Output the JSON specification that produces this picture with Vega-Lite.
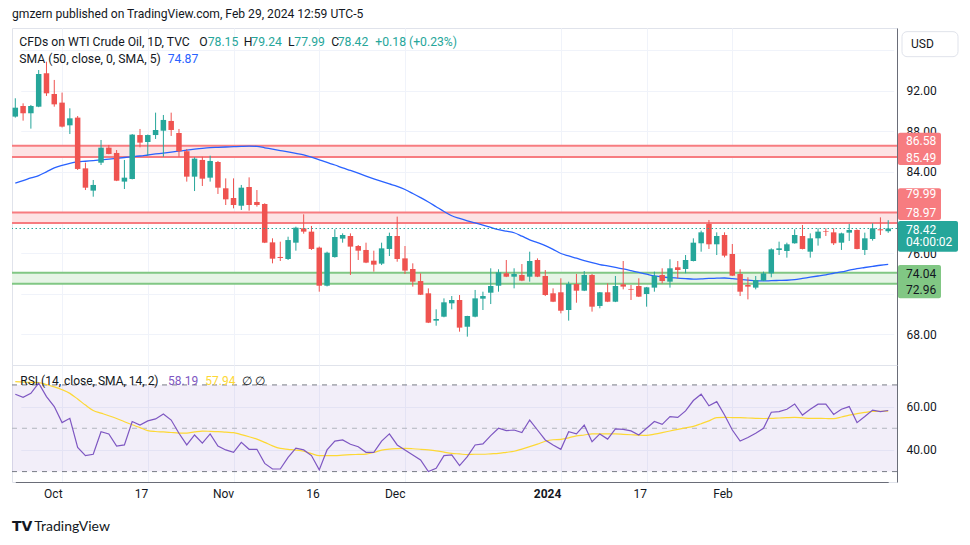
{
"$schema": "https://vega.github.io/schema/vega-lite/v6.json",
"padding": {"left": 10, "top": 8, "right": 0, "bottom": 0},
"background": "#ffffff",
"title": {"text": "gmzern published on TradingView.com, Feb 29, 2024 12:59 UTC-5", "anchor": "start", "fontSize": 12.1, "fontWeight": "normal", "font": "Roboto", "color": "#131722", "offset": 7, "frame": "group"},
"config": {"view": {"stroke": "#e0e3eb"}, "axis": {"labelFont": "Roboto", "labelFontSize": 12, "labelColor": "#131722", "ticks": false, "tickSize": 0}},
"spacing": 0,
"bounds": "flush",
"datasets": {"bars": [
{"d":"2023-09-22","o":89.47,"h":91.28,"l":89.37,"c":90.35,"s":82.89,"r":65.7,"m":71.5},
{"d":"2023-09-25","o":90.52,"h":90.78,"l":89.07,"c":89.80,"s":83.14,"r":64.3,"m":71.3},
{"d":"2023-09-26","o":89.80,"h":90.62,"l":88.28,"c":90.52,"s":83.41,"r":66.1,"m":71.2},
{"d":"2023-09-27","o":90.45,"h":94.07,"l":90.40,"c":93.68,"s":83.65,"r":70.8,"m":71.1},
{"d":"2023-09-28","o":93.75,"h":94.89,"l":91.51,"c":91.77,"s":84.02,"r":64.6,"m":70.2},
{"d":"2023-09-29","o":91.70,"h":93.09,"l":90.45,"c":90.68,"s":84.40,"r":60.0,"m":69.1},
{"d":"2023-10-02","o":90.85,"h":91.84,"l":88.40,"c":88.48,"s":84.65,"r":52.6,"m":67.8},
{"d":"2023-10-03","o":88.61,"h":90.29,"l":87.75,"c":89.30,"s":84.85,"r":54.6,"m":66.1},
{"d":"2023-10-04","o":89.37,"h":89.53,"l":84.20,"c":84.30,"s":84.99,"r":41.2,"m":63.5},
{"d":"2023-10-05","o":84.36,"h":84.92,"l":82.22,"c":82.45,"s":85.06,"r":37.4,"m":60.7},
{"d":"2023-10-06","o":82.16,"h":83.21,"l":81.56,"c":82.72,"s":85.13,"r":38.0,"m":58.2},
{"d":"2023-10-09","o":84.92,"h":87.16,"l":84.69,"c":86.40,"s":85.20,"r":48.4,"m":57.0},
{"d":"2023-10-10","o":86.40,"h":86.67,"l":85.75,"c":85.78,"s":85.27,"r":47.4,"m":55.8},
{"d":"2023-10-11","o":85.88,"h":86.17,"l":83.10,"c":83.14,"s":85.35,"r":41.8,"m":54.5},
{"d":"2023-10-12","o":83.05,"h":85.19,"l":82.32,"c":83.44,"s":85.43,"r":42.3,"m":53.0},
{"d":"2023-10-13","o":83.31,"h":87.75,"l":83.27,"c":87.69,"s":85.50,"r":53.1,"m":51.6},
{"d":"2023-10-16","o":87.65,"h":88.25,"l":86.44,"c":86.90,"s":85.58,"r":51.5,"m":50.3},
{"d":"2023-10-17","o":86.96,"h":87.70,"l":85.61,"c":87.65,"s":85.68,"r":53.4,"m":48.9},
{"d":"2023-10-18","o":87.65,"h":89.86,"l":87.26,"c":88.15,"s":85.78,"r":54.3,"m":48.5},
{"d":"2023-10-19","o":88.08,"h":89.63,"l":85.51,"c":89.14,"s":85.87,"r":56.6,"m":48.3},
{"d":"2023-10-20","o":89.04,"h":89.86,"l":87.56,"c":88.15,"s":85.97,"r":53.8,"m":48.05},
{"d":"2023-10-23","o":87.85,"h":88.25,"l":85.51,"c":86.05,"s":86.06,"r":47.7,"m":47.8},
{"d":"2023-10-24","o":86.05,"h":86.27,"l":83.05,"c":83.54,"s":86.15,"r":42.3,"m":47.8},
{"d":"2023-10-25","o":83.54,"h":85.45,"l":82.12,"c":85.32,"s":86.25,"r":46.9,"m":48.3},
{"d":"2023-10-26","o":85.19,"h":85.51,"l":82.62,"c":83.34,"s":86.34,"r":43.1,"m":48.7},
{"d":"2023-10-27","o":83.44,"h":85.61,"l":83.05,"c":85.09,"s":86.41,"r":47.4,"m":48.6},
{"d":"2023-10-30","o":84.99,"h":85.09,"l":81.83,"c":82.45,"s":86.44,"r":41.8,"m":48.45},
{"d":"2023-10-31","o":82.39,"h":83.37,"l":80.74,"c":81.30,"s":86.47,"r":40.0,"m":48.2},
{"d":"2023-11-01","o":81.43,"h":83.37,"l":80.41,"c":80.74,"s":86.50,"r":38.9,"m":48.0},
{"d":"2023-11-02","o":80.67,"h":82.72,"l":80.25,"c":82.45,"s":86.53,"r":43.5,"m":47.1},
{"d":"2023-11-03","o":82.52,"h":83.47,"l":80.18,"c":80.74,"s":86.55,"r":40.3,"m":46.1},
{"d":"2023-11-06","o":81.04,"h":82.22,"l":80.58,"c":80.74,"s":86.53,"r":40.3,"m":45.0},
{"d":"2023-11-07","o":80.84,"h":80.91,"l":76.98,"c":77.02,"s":86.39,"r":33.8,"m":43.5},
{"d":"2023-11-08","o":77.05,"h":77.45,"l":74.98,"c":75.44,"s":86.26,"r":31.2,"m":41.9},
{"d":"2023-11-09","o":75.61,"h":77.12,"l":75.21,"c":75.51,"s":86.12,"r":31.2,"m":40.7},
{"d":"2023-11-10","o":75.41,"h":77.61,"l":75.31,"c":77.28,"s":85.98,"r":36.6,"m":40.3},
{"d":"2023-11-13","o":77.02,"h":78.60,"l":76.23,"c":78.50,"s":85.83,"r":40.8,"m":39.95},
{"d":"2023-11-14","o":78.44,"h":79.82,"l":77.91,"c":78.11,"s":85.68,"r":40.0,"m":39.4},
{"d":"2023-11-15","o":78.11,"h":78.67,"l":76.30,"c":76.40,"s":85.46,"r":37.4,"m":38.3},
{"d":"2023-11-16","o":76.53,"h":76.63,"l":72.18,"c":72.77,"s":85.20,"r":30.8,"m":37.4},
{"d":"2023-11-17","o":72.77,"h":76.13,"l":72.70,"c":76.03,"s":84.94,"r":40.0,"m":37.4},
{"d":"2023-11-20","o":75.60,"h":78.34,"l":75.54,"c":77.58,"s":84.69,"r":44.1,"m":37.4},
{"d":"2023-11-21","o":77.42,"h":77.94,"l":77.02,"c":77.78,"s":84.41,"r":44.6,"m":37.6},
{"d":"2023-11-22","o":77.68,"h":77.94,"l":73.83,"c":76.63,"s":84.15,"r":42.6,"m":37.8},
{"d":"2023-11-23","o":76.69,"h":76.79,"l":75.31,"c":76.23,"s":83.88,"r":41.5,"m":37.95},
{"d":"2023-11-24","o":76.30,"h":77.02,"l":75.00,"c":75.05,"s":83.60,"r":38.9,"m":38.1},
{"d":"2023-11-27","o":75.24,"h":76.23,"l":74.16,"c":74.85,"s":83.33,"r":38.9,"m":38.8},
{"d":"2023-11-28","o":74.95,"h":77.02,"l":74.81,"c":76.46,"s":83.07,"r":44.1,"m":39.9},
{"d":"2023-11-29","o":76.40,"h":78.01,"l":75.70,"c":77.68,"s":82.82,"r":47.4,"m":40.4},
{"d":"2023-11-30","o":77.68,"h":79.59,"l":75.14,"c":75.41,"s":82.58,"r":42.3,"m":40.6},
{"d":"2023-12-01","o":75.47,"h":76.69,"l":73.93,"c":74.26,"s":82.27,"r":40.0,"m":40.7},
{"d":"2023-12-04","o":74.42,"h":74.98,"l":72.68,"c":73.17,"s":81.88,"r":37.7,"m":40.55},
{"d":"2023-12-05","o":73.23,"h":73.99,"l":71.85,"c":71.88,"s":81.47,"r":35.4,"m":40.3},
{"d":"2023-12-06","o":72.02,"h":72.51,"l":69.08,"c":69.12,"s":81.04,"r":30.0,"m":40.0},
{"d":"2023-12-07","o":69.32,"h":70.44,"l":68.82,"c":69.48,"s":80.57,"r":31.5,"m":39.6},
{"d":"2023-12-08","o":69.71,"h":71.52,"l":69.65,"c":71.13,"s":80.10,"r":37.4,"m":39.0},
{"d":"2023-12-11","o":71.03,"h":71.75,"l":70.44,"c":71.36,"s":79.68,"r":37.7,"m":38.4},
{"d":"2023-12-12","o":71.36,"h":71.85,"l":68.23,"c":68.63,"s":79.41,"r":32.8,"m":38.15},
{"d":"2023-12-13","o":68.72,"h":69.80,"l":67.74,"c":69.78,"s":79.17,"r":36.9,"m":37.85},
{"d":"2023-12-14","o":69.71,"h":72.35,"l":69.65,"c":71.52,"s":78.97,"r":42.3,"m":38.0},
{"d":"2023-12-15","o":71.49,"h":72.18,"l":70.37,"c":71.75,"s":78.76,"r":42.8,"m":38.0},
{"d":"2023-12-18","o":72.08,"h":74.49,"l":70.96,"c":72.74,"s":78.53,"r":46.6,"m":38.2},
{"d":"2023-12-19","o":72.77,"h":74.39,"l":72.18,"c":74.09,"s":78.31,"r":50.0,"m":38.4},
{"d":"2023-12-20","o":74.00,"h":75.31,"l":73.62,"c":73.66,"s":78.15,"r":48.9,"m":38.9},
{"d":"2023-12-21","o":73.66,"h":74.49,"l":72.51,"c":73.93,"s":78.00,"r":49.2,"m":39.4},
{"d":"2023-12-22","o":73.83,"h":74.91,"l":73.22,"c":73.27,"s":77.66,"r":48.0,"m":40.4},
{"d":"2023-12-26","o":73.66,"h":76.13,"l":73.17,"c":75.21,"s":77.30,"r":53.8,"m":41.5},
{"d":"2023-12-27","o":75.31,"h":75.47,"l":73.62,"c":73.66,"s":77.02,"r":49.2,"m":42.7},
{"d":"2023-12-28","o":73.73,"h":74.32,"l":71.75,"c":71.85,"s":76.73,"r":44.6,"m":44.0},
{"d":"2023-12-29","o":72.02,"h":72.51,"l":71.15,"c":71.19,"s":76.36,"r":42.3,"m":44.7},
{"d":"2024-01-02","o":72.12,"h":73.50,"l":70.04,"c":70.30,"s":75.95,"r":40.3,"m":44.9},
{"d":"2024-01-03","o":70.37,"h":73.17,"l":69.32,"c":72.94,"s":75.71,"r":48.4,"m":45.6},
{"d":"2024-01-04","o":72.94,"h":73.93,"l":71.09,"c":72.28,"s":75.49,"r":47.4,"m":46.5},
{"d":"2024-01-05","o":72.28,"h":74.22,"l":72.24,"c":73.83,"s":75.25,"r":51.5,"m":46.9},
{"d":"2024-01-08","o":73.83,"h":73.93,"l":70.21,"c":70.70,"s":75.04,"r":43.8,"m":47.4},
{"d":"2024-01-09","o":70.77,"h":72.15,"l":70.54,"c":72.12,"s":74.86,"r":47.4,"m":47.4},
{"d":"2024-01-10","o":72.12,"h":73.00,"l":71.15,"c":71.19,"s":74.72,"r":45.0,"m":47.4},
{"d":"2024-01-11","o":71.19,"h":73.73,"l":71.15,"c":72.74,"s":74.57,"r":49.7,"m":47.4},
{"d":"2024-01-12","o":72.91,"h":75.21,"l":72.41,"c":72.68,"s":74.43,"r":49.5,"m":47.2},
{"d":"2024-01-15","o":72.45,"h":72.84,"l":71.36,"c":72.38,"s":74.26,"r":48.8,"m":47.0},
{"d":"2024-01-16","o":72.74,"h":73.50,"l":71.65,"c":71.69,"s":74.08,"r":46.9,"m":46.8},
{"d":"2024-01-17","o":71.95,"h":72.65,"l":70.70,"c":72.61,"s":73.91,"r":50.0,"m":46.7},
{"d":"2024-01-18","o":72.58,"h":74.16,"l":72.18,"c":73.73,"s":73.74,"r":53.1,"m":47.3},
{"d":"2024-01-19","o":73.83,"h":74.49,"l":73.00,"c":73.23,"s":73.63,"r":51.8,"m":48.0},
{"d":"2024-01-22","o":73.17,"h":75.38,"l":72.58,"c":74.49,"s":73.57,"r":55.4,"m":48.75},
{"d":"2024-01-23","o":74.59,"h":75.21,"l":73.50,"c":74.32,"s":73.52,"r":55.0,"m":49.5},
{"d":"2024-01-24","o":74.42,"h":75.80,"l":74.00,"c":75.31,"s":73.47,"r":58.0,"m":50.2},
{"d":"2024-01-25","o":75.21,"h":77.45,"l":75.17,"c":77.02,"s":73.43,"r":62.8,"m":50.9},
{"d":"2024-01-26","o":76.96,"h":78.21,"l":76.13,"c":78.04,"s":73.45,"r":65.7,"m":52.1},
{"d":"2024-01-29","o":78.87,"h":79.26,"l":76.40,"c":76.86,"s":73.49,"r":60.4,"m":53.4},
{"d":"2024-01-30","o":76.86,"h":78.04,"l":75.80,"c":77.68,"s":73.51,"r":62.3,"m":54.95},
{"d":"2024-01-31","o":77.78,"h":78.04,"l":75.57,"c":75.74,"s":73.53,"r":56.1,"m":55.0},
{"d":"2024-02-01","o":75.90,"h":76.89,"l":73.72,"c":73.76,"s":73.46,"r":49.2,"m":54.95},
{"d":"2024-02-02","o":73.93,"h":74.39,"l":71.75,"c":72.18,"s":73.39,"r":44.1,"m":54.9},
{"d":"2024-02-05","o":72.84,"h":73.60,"l":71.42,"c":72.68,"s":73.32,"r":45.7,"m":54.75},
{"d":"2024-02-06","o":72.58,"h":73.73,"l":72.41,"c":73.33,"s":73.25,"r":47.7,"m":54.6},
{"d":"2024-02-07","o":73.27,"h":74.16,"l":73.23,"c":73.99,"s":73.24,"r":50.0,"m":54.5},
{"d":"2024-02-08","o":73.99,"h":76.46,"l":73.60,"c":76.36,"s":73.27,"r":57.4,"m":54.56},
{"d":"2024-02-09","o":76.30,"h":77.12,"l":75.80,"c":76.46,"s":73.29,"r":57.7,"m":54.75},
{"d":"2024-02-12","o":76.20,"h":77.02,"l":75.54,"c":76.86,"s":73.31,"r":58.8,"m":54.9},
{"d":"2024-02-13","o":76.96,"h":78.34,"l":76.92,"c":77.78,"s":73.37,"r":61.2,"m":55.0},
{"d":"2024-02-14","o":77.68,"h":78.77,"l":76.36,"c":76.40,"s":73.49,"r":56.1,"m":54.8},
{"d":"2024-02-15","o":76.13,"h":77.94,"l":75.54,"c":77.45,"s":73.61,"r":58.8,"m":54.6},
{"d":"2024-02-16","o":77.45,"h":78.44,"l":76.73,"c":78.11,"s":73.73,"r":61.1,"m":54.55},
{"d":"2024-02-19","o":78.14,"h":78.44,"l":77.68,"c":78.08,"s":73.85,"r":61.1,"m":54.5},
{"d":"2024-02-20","o":78.04,"h":78.44,"l":76.79,"c":76.96,"s":74.00,"r":56.4,"m":54.46},
{"d":"2024-02-21","o":77.02,"h":78.01,"l":76.30,"c":77.94,"s":74.14,"r":58.8,"m":55.2},
{"d":"2024-02-22","o":78.01,"h":78.87,"l":77.19,"c":78.27,"s":74.30,"r":60.0,"m":56.1},
{"d":"2024-02-23","o":78.27,"h":78.34,"l":76.36,"c":76.40,"s":74.46,"r":52.6,"m":56.75},
{"d":"2024-02-26","o":76.30,"h":78.01,"l":75.80,"c":77.45,"s":74.57,"r":55.4,"m":57.3},
{"d":"2024-02-27","o":77.38,"h":78.93,"l":77.22,"c":78.44,"s":74.68,"r":58.4,"m":57.8},
{"d":"2024-02-28","o":78.34,"h":79.52,"l":77.78,"c":78.24,"s":74.79,"r":57.7,"m":57.86},
{"d":"2024-02-29","o":78.15,"h":79.24,"l":77.99,"c":78.42,"s":74.87,"r":58.19,"m":57.94}
]},
"vconcat": [
{
"width": 885, "height": 337,
"layer": [
{"data": {"values": [{"lo":85.49,"hi":86.58,"z":"r"},{"lo":78.97,"hi":79.99,"z":"r"},{"lo":72.96,"hi":74.04,"z":"g"}]},
 "mark": {"type": "rect"},
 "encoding": {"y": {"field": "lo", "type": "quantitative", "title": null, "scale": {"domain": [64.94, 98.22], "nice": false, "zero": false}}, "y2": {"field": "hi"},
  "fill": {"condition": {"test": "datum.z === 'r'", "value": "#fde3e4"}, "value": "#e6f4e6"}}},
{"data": {"values": [{"lo":85.49,"hi":86.58,"z":"r"},{"lo":78.97,"hi":79.99,"z":"r"},{"lo":72.96,"hi":74.04,"z":"g"}]},
 "mark": {"type": "rule", "strokeWidth": 2},
 "encoding": {"y": {"field": "lo", "type": "quantitative", "title": null}, "color": {"condition": {"test": "datum.z === 'r'", "value": "#f77c80"}, "value": "#81c784"}}},
{"data": {"values": [{"lo":85.49,"hi":86.58,"z":"r"},{"lo":78.97,"hi":79.99,"z":"r"},{"lo":72.96,"hi":74.04,"z":"g"}]},
 "mark": {"type": "rule", "strokeWidth": 2},
 "encoding": {"y": {"field": "hi", "type": "quantitative", "title": null}, "color": {"condition": {"test": "datum.z === 'r'", "value": "#f77c80"}, "value": "#81c784"}}},
{"data": {"name": "bars"},
 "mark": {"type": "line", "color": "#2962ff", "strokeWidth": 1.3, "interpolate": "monotone"},
 "encoding": {"x": {"field": "d", "type": "ordinal", "title": null, "scale": {"type": "point", "range": [3.3, 876.2], "padding": 0}}, "y": {"field": "s", "type": "quantitative", "title": null}}},
{"data": {"name": "bars"},
 "mark": {"type": "rule", "strokeWidth": 1},
 "encoding": {
  "x": {"field": "d", "type": "ordinal", "title": null, "scale": {"type": "point", "range": [3.3, 876.2], "padding": 0},
   "axis": {"orient": "bottom", "values": ["2023-10-02","2023-10-17","2023-11-01","2023-11-16","2023-12-01","2024-01-02","2024-01-17","2024-02-01"], "labels": false, "ticks": false, "domain": true, "domainColor": "#e0e3eb", "grid": true, "gridColor": "#f0f3fa", "title": null}},
  "y": {"field": "l", "type": "quantitative", "title": null, "scale": {"domain": [64.94, 98.22], "nice": false, "zero": false},
   "axis": {"orient": "right", "values": [68,72,76,80,84,88,92,96], "labelExpr": "datum.value == 72 || datum.value == 80 || datum.value == 96 ? '' : format(datum.value, '.2f')", "grid": true, "gridColor": "#f0f3fa", "domain": true, "domainColor": "#6a6d78", "labelPadding": 9, "title": null}},
  "y2": {"field": "h"},
  "color": {"condition": {"test": "datum.c >= datum.o", "value": "#26a69a"}, "value": "#ef5350"}}},
{"data": {"name": "bars"},
 "mark": {"type": "bar", "width": 5.5},
 "encoding": {
  "x": {"field": "d", "type": "ordinal", "title": null, "scale": {"type": "point", "range": [3.3, 876.2], "padding": 0}},
  "y": {"field": "o", "type": "quantitative", "title": null}, "y2": {"field": "c"},
  "color": {"condition": {"test": "datum.c >= datum.o", "value": "#26a69a"}, "value": "#ef5350"}}},
{"data": {"values": [{}]},
 "mark": {"type": "rule", "color": "#26a69a", "strokeWidth": 1, "strokeDash": [1.5, 2.5]},
 "encoding": {"y": {"datum": 78.42, "type": "quantitative", "title": null}}},
{"data": {"values": [{}]}, "mark": {"type": "text", "align": "left", "baseline": "middle", "dx": 4, "fontSize": 12.2, "font": "Roboto", "color": "#131722"},
 "encoding": {"x": {"datum": "2023-09-22", "type": "ordinal", "title": null}, "y": {"datum": 96.84, "type": "quantitative", "title": null}, "text": {"value": "CFDs on WTI Crude Oil, 1D, TVC"}}},
{"data": {"values": [{}]}, "mark": {"type": "text", "align": "left", "baseline": "middle", "dx": 184, "fontSize": 12.2, "font": "Roboto", "color": "#131722"},
 "encoding": {"x": {"datum": "2023-09-22", "type": "ordinal", "title": null}, "y": {"datum": 96.84, "type": "quantitative", "title": null}, "text": {"value": "O"}}},
{"data": {"values": [{}]}, "mark": {"type": "text", "align": "left", "baseline": "middle", "dx": 192.4, "fontSize": 12.2, "font": "Roboto", "color": "#26a69a"},
 "encoding": {"x": {"datum": "2023-09-22", "type": "ordinal", "title": null}, "y": {"datum": 96.84, "type": "quantitative", "title": null}, "text": {"value": "78.15"}}},
{"data": {"values": [{}]}, "mark": {"type": "text", "align": "left", "baseline": "middle", "dx": 228.4, "fontSize": 12.2, "font": "Roboto", "color": "#131722"},
 "encoding": {"x": {"datum": "2023-09-22", "type": "ordinal", "title": null}, "y": {"datum": 96.84, "type": "quantitative", "title": null}, "text": {"value": "H"}}},
{"data": {"values": [{}]}, "mark": {"type": "text", "align": "left", "baseline": "middle", "dx": 236, "fontSize": 12.2, "font": "Roboto", "color": "#26a69a"},
 "encoding": {"x": {"datum": "2023-09-22", "type": "ordinal", "title": null}, "y": {"datum": 96.84, "type": "quantitative", "title": null}, "text": {"value": "79.24"}}},
{"data": {"values": [{}]}, "mark": {"type": "text", "align": "left", "baseline": "middle", "dx": 272.7, "fontSize": 12.2, "font": "Roboto", "color": "#131722"},
 "encoding": {"x": {"datum": "2023-09-22", "type": "ordinal", "title": null}, "y": {"datum": 96.84, "type": "quantitative", "title": null}, "text": {"value": "L"}}},
{"data": {"values": [{}]}, "mark": {"type": "text", "align": "left", "baseline": "middle", "dx": 279, "fontSize": 12.2, "font": "Roboto", "color": "#26a69a"},
 "encoding": {"x": {"datum": "2023-09-22", "type": "ordinal", "title": null}, "y": {"datum": 96.84, "type": "quantitative", "title": null}, "text": {"value": "77.99"}}},
{"data": {"values": [{}]}, "mark": {"type": "text", "align": "left", "baseline": "middle", "dx": 316, "fontSize": 12.2, "font": "Roboto", "color": "#131722"},
 "encoding": {"x": {"datum": "2023-09-22", "type": "ordinal", "title": null}, "y": {"datum": 96.84, "type": "quantitative", "title": null}, "text": {"value": "C"}}},
{"data": {"values": [{}]}, "mark": {"type": "text", "align": "left", "baseline": "middle", "dx": 322.4, "fontSize": 12.2, "font": "Roboto", "color": "#26a69a"},
 "encoding": {"x": {"datum": "2023-09-22", "type": "ordinal", "title": null}, "y": {"datum": 96.84, "type": "quantitative", "title": null}, "text": {"value": "78.42"}}},
{"data": {"values": [{}]}, "mark": {"type": "text", "align": "left", "baseline": "middle", "dx": 360, "fontSize": 12.2, "font": "Roboto", "color": "#26a69a"},
 "encoding": {"x": {"datum": "2023-09-22", "type": "ordinal", "title": null}, "y": {"datum": 96.84, "type": "quantitative", "title": null}, "text": {"value": "+0.18 (+0.23%)"}}},
{"data": {"values": [{}]}, "mark": {"type": "text", "align": "left", "baseline": "middle", "dx": 4, "fontSize": 12.2, "font": "Roboto", "color": "#131722"},
 "encoding": {"x": {"datum": "2023-09-22", "type": "ordinal", "title": null}, "y": {"datum": 95.16, "type": "quantitative", "title": null}, "text": {"value": "SMA (50, close, 0, SMA, 5)"}}},
{"data": {"values": [{}]}, "mark": {"type": "text", "align": "left", "baseline": "middle", "dx": 152.4, "fontSize": 12.2, "font": "Roboto", "color": "#2962ff"},
 "encoding": {"x": {"datum": "2023-09-22", "type": "ordinal", "title": null}, "y": {"datum": 95.16, "type": "quantitative", "title": null}, "text": {"value": "74.87"}}},
{"data": {"values": [{}]}, "mark": {"type": "bar", "width": 56, "xOffset": 41.8, "fill": "#ffffff", "stroke": "#e0e3eb", "strokeWidth": 1, "cornerRadius": 5},
 "encoding": {"x": {"datum": "2024-02-29", "type": "ordinal", "title": null}, "y": {"datum": 97.86, "type": "quantitative", "title": null}, "y2": {"datum": 95.39}}},
{"data": {"values": [{}]}, "mark": {"type": "text", "align": "left", "baseline": "middle", "dx": 22.8, "fontSize": 12, "font": "Roboto", "color": "#131722"},
 "encoding": {"x": {"datum": "2024-02-29", "type": "ordinal", "title": null}, "y": {"datum": 96.62, "type": "quantitative", "title": null}, "text": {"value": "USD"}}},
{"data": {"values": [{}]}, "mark": {"type": "bar", "width": 43, "xOffset": 31.3, "color": "#f77c80", "cornerRadius": 2},
 "encoding": {"x": {"datum": "2024-02-29", "type": "ordinal", "title": null}, "y": {"datum": 87.88, "type": "quantitative", "title": null}, "y2": {"datum": 84.69}}},
{"data": {"values": [{}]}, "mark": {"type": "bar", "width": 43, "xOffset": 31.3, "color": "#f77c80", "cornerRadius": 2},
 "encoding": {"x": {"datum": "2024-02-29", "type": "ordinal", "title": null}, "y": {"datum": 82.39, "type": "quantitative", "title": null}, "y2": {"datum": 79.26}}},
{"data": {"values": [{}]}, "mark": {"type": "bar", "width": 60, "xOffset": 39.8, "color": "#26a69a", "cornerRadius": 2},
 "encoding": {"x": {"datum": "2024-02-29", "type": "ordinal", "title": null}, "y": {"datum": 79.16, "type": "quantitative", "title": null}, "y2": {"datum": 76.13}}},
{"data": {"values": [{}]}, "mark": {"type": "bar", "width": 43, "xOffset": 31.3, "color": "#81c784", "cornerRadius": 2},
 "encoding": {"x": {"datum": "2024-02-29", "type": "ordinal", "title": null}, "y": {"datum": 74.81, "type": "quantitative", "title": null}, "y2": {"datum": 71.53}}},
{"data": {"values": [{}]}, "mark": {"type": "text", "align": "left", "baseline": "middle", "dx": 17.8, "fontSize": 12, "font": "Roboto", "color": "#ffffff"},
 "encoding": {"x": {"datum": "2024-02-29", "type": "ordinal", "title": null}, "y": {"datum": 87.09, "type": "quantitative", "title": null}, "text": {"value": "86.58"}}},
{"data": {"values": [{}]}, "mark": {"type": "text", "align": "left", "baseline": "middle", "dx": 17.8, "fontSize": 12, "font": "Roboto", "color": "#ffffff"},
 "encoding": {"x": {"datum": "2024-02-29", "type": "ordinal", "title": null}, "y": {"datum": 85.41, "type": "quantitative", "title": null}, "text": {"value": "85.49"}}},
{"data": {"values": [{}]}, "mark": {"type": "text", "align": "left", "baseline": "middle", "dx": 17.8, "fontSize": 12, "font": "Roboto", "color": "#ffffff"},
 "encoding": {"x": {"datum": "2024-02-29", "type": "ordinal", "title": null}, "y": {"datum": 81.80, "type": "quantitative", "title": null}, "text": {"value": "79.99"}}},
{"data": {"values": [{}]}, "mark": {"type": "text", "align": "left", "baseline": "middle", "dx": 17.8, "fontSize": 12, "font": "Roboto", "color": "#ffffff"},
 "encoding": {"x": {"datum": "2024-02-29", "type": "ordinal", "title": null}, "y": {"datum": 79.98, "type": "quantitative", "title": null}, "text": {"value": "78.97"}}},
{"data": {"values": [{}]}, "mark": {"type": "text", "align": "left", "baseline": "middle", "dx": 17.8, "fontSize": 12, "font": "Roboto", "color": "#ffffff"},
 "encoding": {"x": {"datum": "2024-02-29", "type": "ordinal", "title": null}, "y": {"datum": 78.27, "type": "quantitative", "title": null}, "text": {"value": "78.42"}}},
{"data": {"values": [{}]}, "mark": {"type": "text", "align": "left", "baseline": "middle", "dx": 17.8, "fontSize": 12, "font": "Roboto", "color": "#ffffff"},
 "encoding": {"x": {"datum": "2024-02-29", "type": "ordinal", "title": null}, "y": {"datum": 77.06, "type": "quantitative", "title": null}, "text": {"value": "04:00:02"}}},
{"data": {"values": [{}]}, "mark": {"type": "text", "align": "left", "baseline": "middle", "dx": 17.8, "fontSize": 12, "font": "Roboto", "color": "#131722"},
 "encoding": {"x": {"datum": "2024-02-29", "type": "ordinal", "title": null}, "y": {"datum": 73.96, "type": "quantitative", "title": null}, "text": {"value": "74.04"}}},
{"data": {"values": [{}]}, "mark": {"type": "text", "align": "left", "baseline": "middle", "dx": 17.8, "fontSize": 12, "font": "Roboto", "color": "#131722"},
 "encoding": {"x": {"datum": "2024-02-29", "type": "ordinal", "title": null}, "y": {"datum": 72.35, "type": "quantitative", "title": null}, "text": {"value": "72.96"}}}
]
},
{
"width": 885, "height": 117,
"layer": [
{"data": {"values": [{}]},
 "mark": {"type": "rect", "fill": "#7e57c2", "fillOpacity": 0.1},
 "encoding": {"y": {"datum": 30, "type": "quantitative", "title": null, "scale": {"domain": [25.2, 79.2], "nice": false, "zero": false}}, "y2": {"datum": 70}}},
{"data": {"values": [{}]},
 "mark": {"type": "rule", "color": "#787b86", "strokeWidth": 1, "strokeDash": [5, 5]},
 "encoding": {"y": {"datum": 70, "type": "quantitative", "title": null}}},
{"data": {"values": [{}]},
 "mark": {"type": "rule", "color": "#787b86", "strokeWidth": 1, "strokeDash": [5, 5]},
 "encoding": {"y": {"datum": 30, "type": "quantitative", "title": null}}},
{"data": {"values": [{}]},
 "mark": {"type": "rule", "color": "#b2b5be", "strokeWidth": 1, "strokeDash": [5, 5]},
 "encoding": {"y": {"datum": 50, "type": "quantitative", "title": null}}},
{"data": {"name": "bars"},
 "mark": {"type": "line", "color": "#fdd835", "strokeWidth": 1.2, "interpolate": "monotone"},
 "encoding": {"x": {"field": "d", "type": "ordinal", "title": null, "scale": {"type": "point", "range": [3.3, 876.2], "padding": 0}}, "y": {"field": "m", "type": "quantitative", "title": null}}},
{"data": {"name": "bars"},
 "mark": {"type": "line", "color": "#7e57c2", "strokeWidth": 1.2},
 "encoding": {
  "x": {"field": "d", "type": "ordinal", "title": null, "scale": {"type": "point", "range": [3.3, 876.2], "padding": 0},
   "axis": {"orient": "bottom", "values": ["2023-10-02","2023-10-17","2023-11-01","2023-11-16","2023-12-01","2024-01-02","2024-01-17","2024-02-01"], "labelAngle": 0, "labelPadding": 11, "domain": true, "domainColor": "#6a6d78", "grid": true, "gridColor": "#f0f3fa", "title": null,
    "labelExpr": "datum.value == '2023-10-02' ? 'Oct' : datum.value == '2023-10-17' ? '17' : datum.value == '2023-11-01' ? 'Nov' : datum.value == '2023-11-16' ? '16' : datum.value == '2023-12-01' ? 'Dec' : datum.value == '2024-01-02' ? '2024' : datum.value == '2024-01-17' ? '17' : 'Feb'",
    "labelFontWeight": {"condition": {"test": "datum.value == '2024-01-02'", "value": "bold"}, "value": "normal"}}},
  "y": {"field": "r", "type": "quantitative", "title": null, "scale": {"domain": [25.2, 79.2], "nice": false, "zero": false},
   "axis": {"orient": "right", "values": [40, 60], "format": ".2f", "grid": true, "gridColor": "#f0f3fa", "domain": true, "domainColor": "#6a6d78", "labelPadding": 9, "title": null}}}},
{"data": {"values": [{}]}, "mark": {"type": "text", "align": "left", "baseline": "middle", "dx": 5, "fontSize": 12, "font": "Roboto", "color": "#131722"},
 "encoding": {"x": {"datum": "2023-09-22", "type": "ordinal", "title": null}, "y": {"datum": 71.8, "type": "quantitative", "title": null}, "text": {"value": "RSI (14, close, SMA, 14, 2)"}}},
{"data": {"values": [{}]}, "mark": {"type": "text", "align": "left", "baseline": "middle", "dx": 152.7, "fontSize": 12, "font": "Roboto", "color": "#7e57c2"},
 "encoding": {"x": {"datum": "2023-09-22", "type": "ordinal", "title": null}, "y": {"datum": 71.8, "type": "quantitative", "title": null}, "text": {"value": "58.19"}}},
{"data": {"values": [{}]}, "mark": {"type": "text", "align": "left", "baseline": "middle", "dx": 190, "fontSize": 12, "font": "Roboto", "color": "#fdd835"},
 "encoding": {"x": {"datum": "2023-09-22", "type": "ordinal", "title": null}, "y": {"datum": 71.8, "type": "quantitative", "title": null}, "text": {"value": "57.94"}}},
{"data": {"values": [{}]}, "mark": {"type": "text", "align": "left", "baseline": "middle", "dx": 226.7, "fontSize": 12, "font": "Roboto", "color": "#131722"},
 "encoding": {"x": {"datum": "2023-09-22", "type": "ordinal", "title": null}, "y": {"datum": 71.8, "type": "quantitative", "title": null}, "text": {"value": "∅  ∅"}}},
{"data": {"values": [{}]}, "mark": {"type": "text", "align": "left", "baseline": "middle", "dx": -3.3, "fontSize": 14, "font": "DejaVu Sans", "fontWeight": "bold", "color": "#131722"},
 "encoding": {"x": {"datum": "2023-09-22", "type": "ordinal", "title": null}, "y": {"datum": 4.45, "type": "quantitative", "title": null}, "text": {"value": "TV"}}},
{"data": {"values": [{}]}, "mark": {"type": "text", "align": "left", "baseline": "middle", "dx": 19, "fontSize": 14, "font": "Lato", "color": "#131722"},
 "encoding": {"x": {"datum": "2023-09-22", "type": "ordinal", "title": null}, "y": {"datum": 4.45, "type": "quantitative", "title": null}, "text": {"value": "TradingView"}}}
]
}
]
}
